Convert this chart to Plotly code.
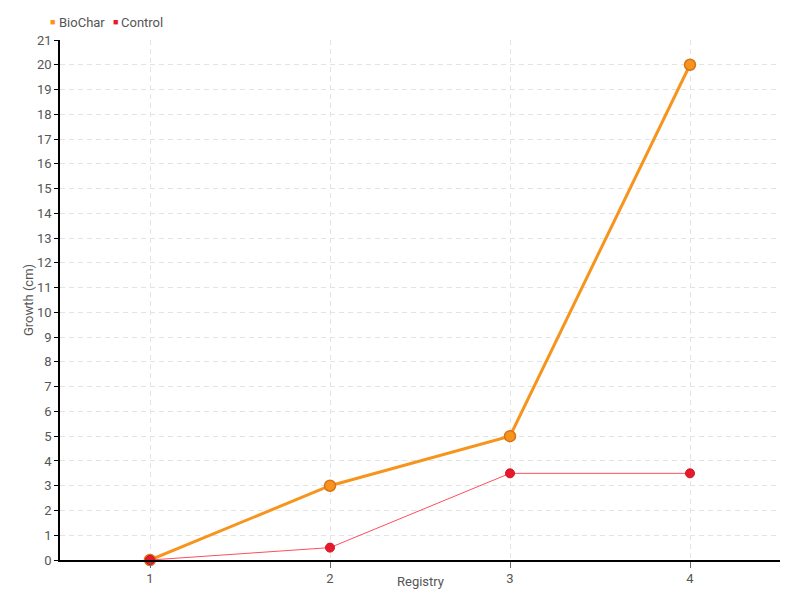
import plotly.graph_objects as go

registry = [1, 2, 3, 4]
biochar = [0, 3, 5, 20]
control = [0, 0.5, 3.5, 3.5]

orange = '#f7941d'
red = '#e8192c'
font = 'Roboto'
grey = '#555'

fig = go.Figure()

fig.add_trace(go.Scatter(
    x=registry, y=biochar, mode='lines+markers', name='BioChar',
    line=dict(color=orange, width=3),
    marker=dict(color=orange, size=11, line=dict(color='#d9731a', width=1.5)),
    showlegend=False, cliponaxis=False,
))
fig.add_trace(go.Scatter(
    x=registry, y=control, mode='lines+markers', name='Control',
    line=dict(color='#ff4d5e', width=1),
    marker=dict(color=red, size=9, line=dict(color='#d0101f', width=1)),
    showlegend=False, cliponaxis=False,
))

# compact legend drawn as annotations (square swatch + label)
legend_items = [('BioChar', orange, -0.0111, -0.0014), ('Control', red, 0.0764, 0.0847)]
for name, col, xs, xt in legend_items:
    fig.add_annotation(xref='paper', yref='paper', x=xs, y=1.0346, text='■',
                       showarrow=False, font=dict(size=9, color=col),
                       xanchor='center', yanchor='middle')
    fig.add_annotation(xref='paper', yref='paper', x=xt, y=1.0346, text=name,
                       showarrow=False, font=dict(size=13, color=grey),
                       xanchor='left', yanchor='middle', xshift=-2)

# axis titles
fig.add_annotation(xref='paper', yref='paper', x=0.5, y=-0.0404, text='Registry',
                   showarrow=False, font=dict(size=13, color=grey),
                   xanchor='center', yanchor='middle')
fig.add_annotation(xref='paper', yref='paper', x=-0.0444, y=0.5, text='Growth (cm)',
                   showarrow=False, font=dict(size=13, color=grey), textangle=-90,
                   xanchor='center', yanchor='middle')

# page body has an 8px margin, so the figure is sized and offset to fill 800x600
fig.update_layout(
    width=792, height=592,
    margin=dict(l=52, r=20, t=32, b=40, autoexpand=False),
    paper_bgcolor='white', plot_bgcolor='white',
    font=dict(family=font, size=13, color=grey),
    showlegend=False,
    xaxis=dict(
        range=[0.5, 4.5], tickvals=registry, ticktext=[str(v) for v in registry],
        showgrid=True, gridcolor='#e3e3e3', griddash='5px,4px', automargin=False,
        showline=True, linecolor='black', linewidth=1.5,
        ticks='outside', ticklen=6, tickcolor='#666',
        zeroline=False,
    ),
    yaxis=dict(
        range=[0, 21], dtick=1, automargin=False,
        showgrid=True, gridcolor='#e3e3e3', griddash='5px,4px',
        showline=True, linecolor='black', linewidth=1.5,
        ticks='outside', ticklen=4, tickcolor='black',
        zeroline=False,
    ),
)

fig.write_html("out.html")
